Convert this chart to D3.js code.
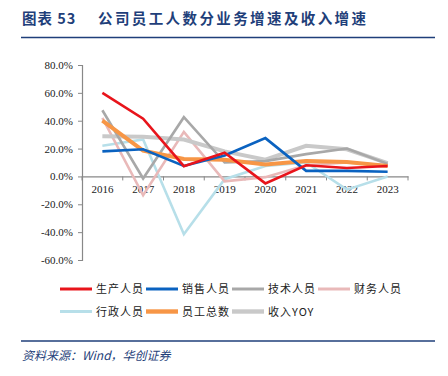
<!DOCTYPE html>
<html>
<head>
<meta charset="utf-8">
<script src="https://cdn.jsdelivr.net/npm/d3@7"></script>
<style>
  body { margin: 0; background: #fff; }
  svg { display: block; }
  .tick text { font-family: "Liberation Serif", "DejaVu Serif", serif; font-size: 11px; fill: #222; }
</style>
</head>
<body>
<script>
var years = ["2016", "2017", "2018", "2019", "2020", "2021", "2022", "2023"];
var yTicks = [-60, -40, -20, 0, 20, 40, 60, 80];

// growth rates in %
var production = [60, 41.5, 7.4, 17, -5, 8, 6, 7.5];
var sales = [18, 19.5, 7.5, 15, 27.5, 4, 4, 3.4];
var technical = [47.5, -1.5, 42.5, 10, 11, 16, 20, 9];
var finance = [42, -13.5, 32, -3.5, -0.5, 8, 10, 8];
var admin = [22, 26.5, -41.5, -2, 7.5, 10, -9.5, 0];
var headcount = [40, 18.5, 12.5, 12, 8.6, 11, 10.3, 7.5];
var revenue = [28.8, 28.4, 26.5, 18, 12, 22, 19.5, 9.5];

var seriesNames = ["生产人员", "销售人员", "技术人员", "财务人员", "行政人员", "员工总数", "收入YOY"];
var seriesValues = [production, sales, technical, finance, admin, headcount, revenue];
var colors = ["#e8141b", "#0a62c0", "#a8a8a8", "#e9b9b9", "#b7dfe9", "#f79646", "#c9c9c9"];
var widths = [2.6, 2.6, 2.6, 2.6, 2.6, 4, 4];
var drawOrder = [4, 3, 6, 2, 5, 1, 0];

var width = 448, height = 376;
var svg = d3.select("body").append("svg")
  .attr("width", width)
  .attr("height", height);

var navy = "#1f3f7a";

// title, in two pieces to keep the wide gap
var titleFont = "'Noto Sans CJK SC', sans-serif";
svg.append("text")
  .attr("x", 22)
  .attr("y", 24)
  .attr("fill", navy)
  .style("font-family", titleFont)
  .style("font-weight", "bold")
  .style("font-size", "14.5px")
  .style("letter-spacing", "1px")
  .text("图表 53");
svg.append("text")
  .attr("x", 98)
  .attr("y", 24)
  .attr("fill", navy)
  .style("font-family", titleFont)
  .style("font-weight", "bold")
  .style("font-size", "14.5px")
  .style("letter-spacing", "2.4px")
  .text("公司员工人数分业务增速及收入增速");

svg.append("line")
  .attr("x1", 21).attr("x2", 435)
  .attr("y1", 37.5).attr("y2", 37.5)
  .attr("stroke", navy)
  .attr("stroke-width", 1.5);

var x = d3.scaleBand().domain(years).range([82, 408]);
var y = d3.scaleLinear().domain([-60, 80]).range([260, 65]);

var axisColor = "#888";

var yAxis = svg.append("g")
  .attr("transform", "translate(82,0)")
  .call(d3.axisLeft(y).tickValues(yTicks).tickSize(4).tickPadding(5)
    .tickFormat(function(d){ return d.toFixed(1) + "%"; }));
yAxis.select(".domain").attr("stroke", axisColor).attr("stroke-width", 1.2);
yAxis.selectAll(".tick line").attr("stroke", axisColor);

var xAxis = svg.append("g")
  .attr("transform", "translate(0," + y(0) + ")")
  .call(d3.axisBottom(x).tickSize(0).tickPadding(9));
xAxis.select(".domain").attr("stroke", axisColor).attr("stroke-width", 1.2);

// tick marks at the category boundaries
xAxis.selectAll("line.sep")
  .data(years.concat(["end"]))
  .enter()
  .append("line")
  .attr("class", "sep")
  .attr("x1", function(d, i){ return 82 + i * x.bandwidth(); })
  .attr("x2", function(d, i){ return 82 + i * x.bandwidth(); })
  .attr("y1", 0)
  .attr("y2", 4)
  .attr("stroke", axisColor);

var line = d3.line()
  .x(function(d, i){ return x(years[i]) + x.bandwidth() / 2; })
  .y(function(d){ return y(d); });

var lines = svg.append("g").attr("class", "lines");
drawOrder.forEach(function(k){
  lines.append("path")
    .datum(seriesValues[k])
    .attr("d", line)
    .attr("fill", "none")
    .attr("stroke", colors[k])
    .attr("stroke-width", widths[k])
    .attr("stroke-linejoin", "miter");
});

// legend
var legend = svg.append("g").attr("class", "legend");
seriesNames.forEach(function(name, i){
  var row = Math.floor(i / 4), col = i % 4;
  var lx = 60 + col * 86, ly = 289 + row * 22.5;
  legend.append("line")
    .attr("x1", lx).attr("x2", lx + 32)
    .attr("y1", ly).attr("y2", ly)
    .attr("stroke", colors[i])
    .attr("stroke-width", widths[i] + 0.4);
  legend.append("text")
    .attr("x", lx + 36)
    .attr("y", ly + 4)
    .attr("fill", "#222")
    .style("font-family", "'Noto Sans CJK SC', 'Liberation Serif', serif")
    .style("font-size", "11px")
    .style("letter-spacing", "1px")
    .text(name);
});

// footer
svg.append("line")
  .attr("x1", 21).attr("x2", 435)
  .attr("y1", 341).attr("y2", 341)
  .attr("stroke", navy)
  .attr("stroke-width", 1.5);

svg.append("text")
  .attr("x", 22)
  .attr("y", 360)
  .attr("fill", navy)
  .style("font-family", "'Noto Sans CJK SC', serif")
  .style("font-style", "italic")
  .style("font-size", "12px")
  .text("资料来源：Wind，华创证券");
</script>
</body>
</html>
